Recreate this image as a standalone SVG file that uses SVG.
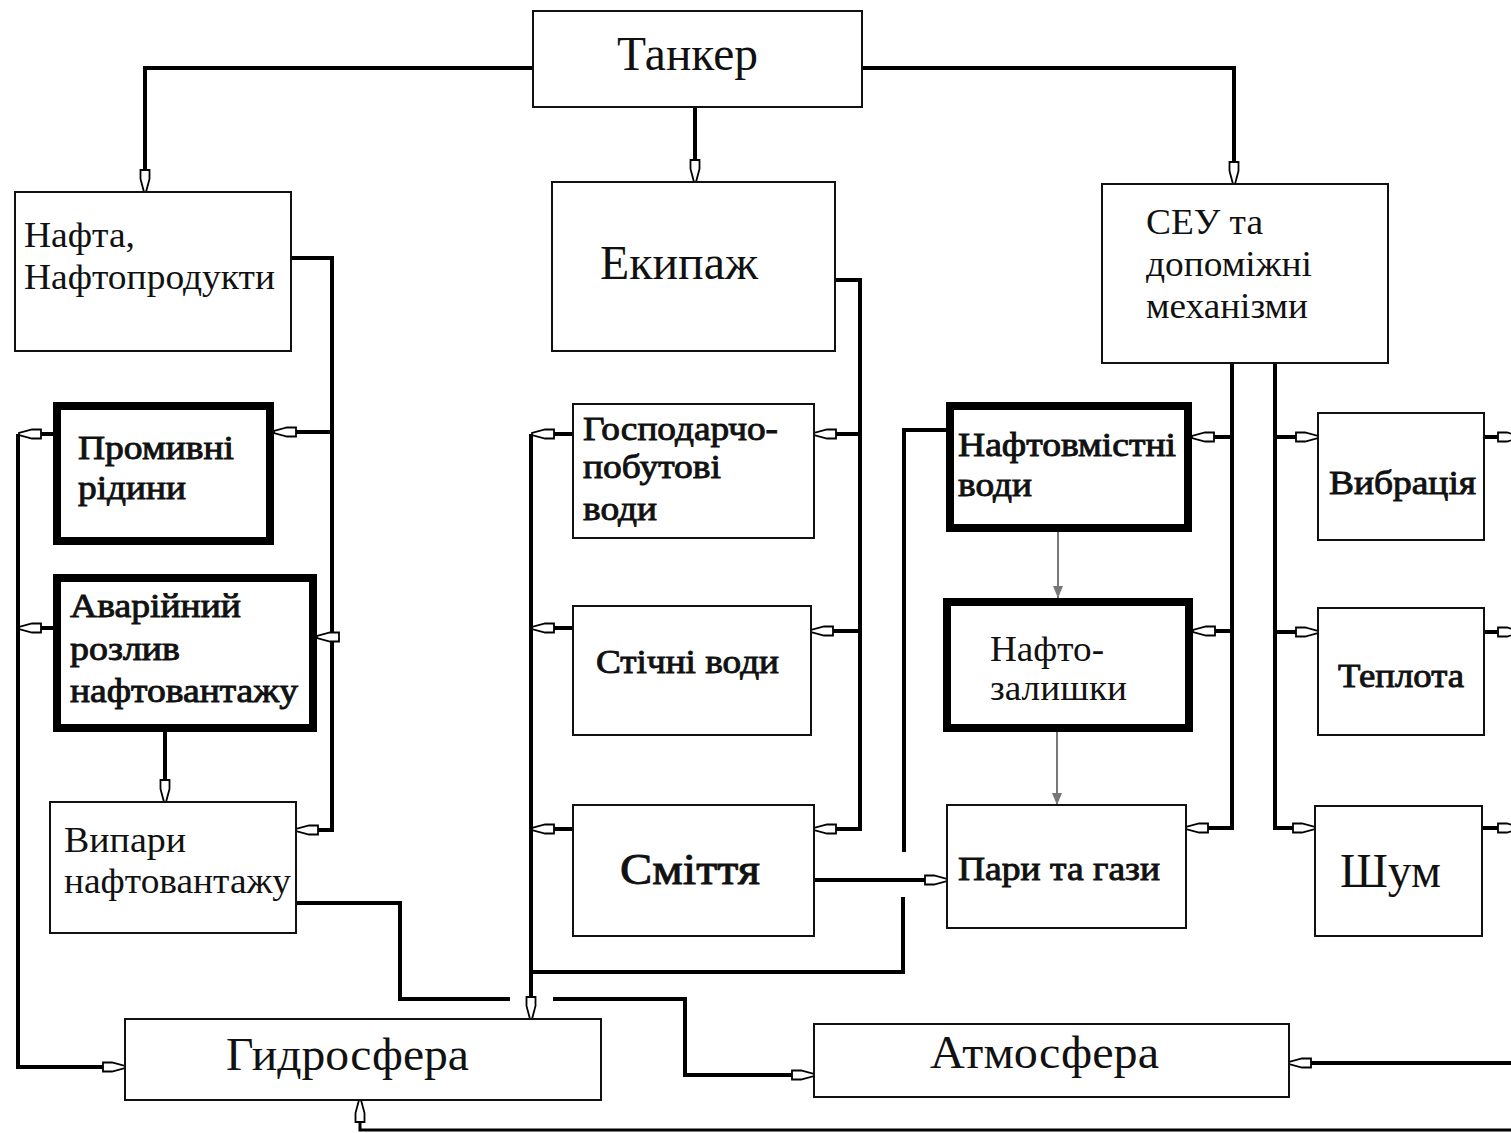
<svg xmlns="http://www.w3.org/2000/svg" width="1511" height="1133" viewBox="0 0 1511 1133">
<style>
.box{fill:#fff;stroke:#111;stroke-width:2}
.thick{fill:#fff;stroke:#000;stroke-width:8}
.t{font-family:"Liberation Serif","Times New Roman",serif;fill:#111;font-size:33px}
.m{stroke:#111;stroke-width:0.9}
.big{font-size:48px}
.c{fill:none;stroke:#000;stroke-width:4;stroke-linejoin:miter}
.g{fill:none;stroke:#777;stroke-width:2}
</style>
<defs>
<marker id="ah" markerUnits="userSpaceOnUse" markerWidth="28" markerHeight="14" viewBox="-2 -7 28 14" refX="23" refY="0" orient="auto">
<path d="M1,-4.5 L10,-4.5 L23,-1 L23,1 L10,4.5 L1,4.5 Z" fill="#fff" stroke="#000" stroke-width="1.8"/>
</marker>
<marker id="ga" markerUnits="userSpaceOnUse" markerWidth="14" markerHeight="12" viewBox="0 -6 14 12" refX="12" refY="0" orient="auto">
<path d="M0,-5 L12,0 L0,5 Z" fill="#777"/>
</marker>
</defs>

<g id="connectors">
<path class="c" d="M533,68 H145 V192" marker-end="url(#ah)"/>
<path class="c" d="M695,107 V182" marker-end="url(#ah)"/>
<path class="c" d="M862,68 H1234 V184" marker-end="url(#ah)"/>
<path class="c" d="M291,258 H332 V830 H296" marker-end="url(#ah)"/>
<path class="c" d="M332,432 H274" marker-end="url(#ah)"/>
<path class="c" d="M332,637 H317" marker-end="url(#ah)"/>
<path class="c" d="M53,434 H19" marker-end="url(#ah)"/>
<path class="c" d="M53,628 H19" marker-end="url(#ah)"/>
<path class="c" d="M18,434 V1067 H125" marker-end="url(#ah)"/>
<path class="c" d="M165,732 V802" marker-end="url(#ah)"/>
<path class="c" d="M296,903 H400 V999 H510"/>
<path class="c" d="M553,999 H685 V1075 H814" marker-end="url(#ah)"/>
<path class="c" d="M835,280 H860 V829 H814" marker-end="url(#ah)"/>
<path class="c" d="M860,434 H814" marker-end="url(#ah)"/>
<path class="c" d="M860,631 H811" marker-end="url(#ah)"/>
<path class="c" d="M573,434 H532" marker-end="url(#ah)"/>
<path class="c" d="M573,628 H532" marker-end="url(#ah)"/>
<path class="c" d="M573,829 H532" marker-end="url(#ah)"/>
<path class="c" d="M531,434 V1019" marker-end="url(#ah)"/>
<path class="c" d="M946,430 H904 V852"/>
<path class="c" d="M903,897 V972 H531"/>
<path class="c" d="M814,880 H947" marker-end="url(#ah)"/>
<path class="g" d="M1058,532 V598" marker-end="url(#ga)"/>
<path class="g" d="M1057,732 V805" marker-end="url(#ga)"/>
<path class="c" d="M1232,363 V828 H1186" marker-end="url(#ah)"/>
<path class="c" d="M1232,437 H1192" marker-end="url(#ah)"/>
<path class="c" d="M1232,631 H1193" marker-end="url(#ah)"/>
<path class="c" d="M1275,363 V828 H1315" marker-end="url(#ah)"/>
<path class="c" d="M1275,437 H1318" marker-end="url(#ah)"/>
<path class="c" d="M1275,632 H1318" marker-end="url(#ah)"/>
<path class="c" d="M1484,437 H1520" marker-end="url(#ah)"/>
<path class="c" d="M1484,632 H1520" marker-end="url(#ah)"/>
<path class="c" d="M1482,828 H1520" marker-end="url(#ah)"/>
<path class="c" d="M1511,1063 H1289" marker-end="url(#ah)"/>
<path class="c" d="M1511,1130 H360 V1100" marker-end="url(#ah)" style="stroke-width:3"/>
</g>

<g id="tanker"><rect class="box" x="533" y="11" width="329" height="96"/>
<text class="t big" x="617" y="70" textLength="141" lengthAdjust="spacingAndGlyphs">Танкер</text></g>

<g id="nafta"><rect class="box" x="15" y="192" width="276" height="159"/>
<text class="t" x="24" y="247" style="font-size:36px" textLength="111" lengthAdjust="spacingAndGlyphs">Нафта,</text>
<text class="t" x="24" y="289" style="font-size:36px" textLength="251" lengthAdjust="spacingAndGlyphs">Нафтопродукти</text></g>

<g id="ekipazh"><rect class="box" x="552" y="182" width="283" height="169"/>
<text class="t big" x="600" y="279" textLength="158" lengthAdjust="spacingAndGlyphs">Екипаж</text></g>

<g id="seu"><rect class="box" x="1102" y="184" width="286" height="179"/>
<text class="t" x="1146" y="234" style="font-size:36px" textLength="117" lengthAdjust="spacingAndGlyphs">СЕУ та</text>
<text class="t" x="1146" y="276" style="font-size:36px" textLength="166" lengthAdjust="spacingAndGlyphs">допоміжні</text>
<text class="t" x="1146" y="318" style="font-size:36px" textLength="162" lengthAdjust="spacingAndGlyphs">механізми</text></g>

<g id="promyvni"><rect class="thick" x="57" y="406" width="213" height="135"/>
<text class="t m" x="78" y="459" textLength="156" lengthAdjust="spacingAndGlyphs">Промивні</text>
<text class="t m" x="78" y="499" textLength="108" lengthAdjust="spacingAndGlyphs">рідини</text></g>

<g id="avariynyi"><rect class="thick" x="57" y="578" width="256" height="150"/>
<text class="t m" x="70" y="617" textLength="171" lengthAdjust="spacingAndGlyphs">Аварійний</text>
<text class="t m" x="70" y="660" textLength="110" lengthAdjust="spacingAndGlyphs">розлив</text>
<text class="t m" x="70" y="702" textLength="228" lengthAdjust="spacingAndGlyphs">нафтовантажу</text></g>

<g id="vypary"><rect class="box" x="50" y="802" width="246" height="131"/>
<text class="t" x="64" y="852" style="font-size:36px" textLength="122" lengthAdjust="spacingAndGlyphs">Випари</text>
<text class="t" x="64" y="893" style="font-size:36px" textLength="227" lengthAdjust="spacingAndGlyphs">нафтовантажу</text></g>

<g id="hospodarcho"><rect class="box" x="573" y="404" width="241" height="134"/>
<text class="t m" x="583" y="440" textLength="195" lengthAdjust="spacingAndGlyphs">Господарчо-</text>
<text class="t m" x="583" y="478" textLength="138" lengthAdjust="spacingAndGlyphs">побутові</text>
<text class="t m" x="583" y="520" textLength="74" lengthAdjust="spacingAndGlyphs">води</text></g>

<g id="stichni"><rect class="box" x="573" y="606" width="238" height="129"/>
<text class="t m" x="596" y="673" textLength="183" lengthAdjust="spacingAndGlyphs">Стічні води</text></g>

<g id="smittia"><rect class="box" x="573" y="805" width="241" height="131"/>
<text class="t m" x="620" y="884" style="font-size:44px" textLength="140" lengthAdjust="spacingAndGlyphs">Сміття</text></g>

<g id="naftovmistni"><rect class="thick" x="950" y="406" width="238" height="122"/>
<text class="t m" x="958" y="456" textLength="218" lengthAdjust="spacingAndGlyphs">Нафтовмістні</text>
<text class="t m" x="958" y="496" textLength="74" lengthAdjust="spacingAndGlyphs">води</text></g>

<g id="naftozalyshky"><rect class="thick" x="947" y="602" width="242" height="126"/>
<text class="t" x="990" y="661" style="font-size:35px" textLength="114" lengthAdjust="spacingAndGlyphs">Нафто-</text>
<text class="t" x="990" y="700" style="font-size:35px" textLength="137" lengthAdjust="spacingAndGlyphs">залишки</text></g>

<g id="pary"><rect class="box" x="947" y="805" width="239" height="123"/>
<text class="t m" x="958" y="880" textLength="202" lengthAdjust="spacingAndGlyphs">Пари та гази</text></g>

<g id="vybratsiia"><rect class="box" x="1318" y="413" width="166" height="127"/>
<text class="t m" x="1329" y="494" textLength="147" lengthAdjust="spacingAndGlyphs">Вибрація</text></g>

<g id="teplota"><rect class="box" x="1318" y="608" width="166" height="127"/>
<text class="t m" x="1338" y="687" textLength="126" lengthAdjust="spacingAndGlyphs">Теплота</text></g>

<g id="shum"><rect class="box" x="1315" y="806" width="167" height="130"/>
<text class="t big" x="1340" y="887" textLength="101" lengthAdjust="spacingAndGlyphs">Шум</text></g>

<g id="hidrosfera"><rect class="box" x="125" y="1019" width="476" height="81"/>
<text class="t" x="226" y="1070" style="font-size:46px" textLength="243" lengthAdjust="spacingAndGlyphs">Гидросфера</text></g>

<g id="atmosfera"><rect class="box" x="814" y="1024" width="475" height="73"/>
<text class="t" x="930" y="1068" style="font-size:46px" textLength="229" lengthAdjust="spacingAndGlyphs">Атмосфера</text></g>
</svg>
